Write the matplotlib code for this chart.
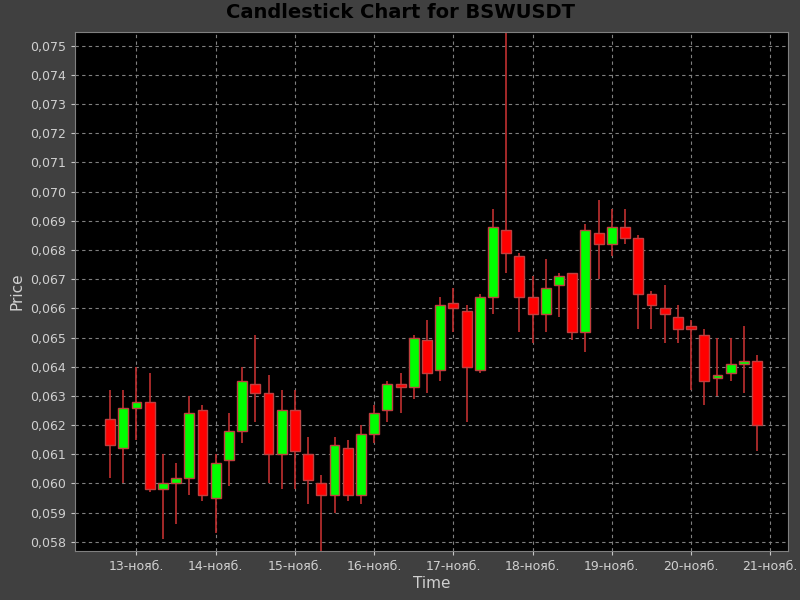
import matplotlib
matplotlib.use("Agg")
import matplotlib.pyplot as plt
import matplotlib.dates as mdates
import matplotlib.ticker as mticker
import pandas as pd

times = pd.date_range("2023-11-12 16:00", periods=50, freq="4h")
opens = [0.0622,0.0612,0.0626,0.0628,0.0598,0.0600,0.0602,0.0625,0.0595,0.0608,
         0.0618,0.0634,0.0631,0.0610,0.0625,0.0610,0.0600,0.0596,0.0612,0.0596,
         0.0617,0.0625,0.0634,0.0633,0.0649,0.0639,0.0662,0.0659,0.0639,0.0664,
         0.0687,0.0678,0.0664,0.0658,0.0668,0.0672,0.0652,0.0686,0.0682,0.0688,
         0.0684,0.0665,0.0660,0.0657,0.0654,0.0651,0.0636,0.0638,0.0641,0.0642]
highs = [0.0632,0.0632,0.0640,0.0638,0.0610,0.0607,0.0630,0.0627,0.0610,0.0624,
         0.0640,0.0651,0.0637,0.0632,0.0632,0.0616,0.0603,0.0616,0.0615,0.0620,
         0.0627,0.0635,0.0638,0.0651,0.0656,0.0664,0.0667,0.0661,0.0665,0.0694,
         0.0756,0.0679,0.0671,0.0677,0.0672,0.0672,0.0689,0.0697,0.0694,0.0694,
         0.0685,0.0666,0.0668,0.0661,0.0656,0.0653,0.0650,0.0650,0.0654,0.0644]
lows = [0.0602,0.0600,0.0615,0.0597,0.0581,0.0586,0.0596,0.0594,0.0583,0.0599,
        0.0614,0.0621,0.0600,0.0598,0.0598,0.0593,0.0577,0.0590,0.0594,0.0593,
        0.0614,0.0621,0.0624,0.0629,0.0631,0.0635,0.0652,0.0621,0.0638,0.0658,
        0.0672,0.0652,0.0648,0.0652,0.0657,0.0649,0.0645,0.0670,0.0678,0.0682,
        0.0653,0.0653,0.0648,0.0648,0.0632,0.0627,0.0630,0.0635,0.0631,0.0611]
closes = [0.0613,0.0626,0.0628,0.0598,0.0600,0.0602,0.0624,0.0596,0.0607,0.0618,
          0.0635,0.0631,0.0610,0.0625,0.0611,0.0601,0.0596,0.0613,0.0596,0.0617,
          0.0624,0.0634,0.0633,0.0650,0.0638,0.0661,0.0660,0.0640,0.0664,0.0688,
          0.0679,0.0664,0.0658,0.0667,0.0671,0.0652,0.0687,0.0682,0.0688,0.0684,
          0.0665,0.0661,0.0658,0.0653,0.0653,0.0635,0.0637,0.0641,0.0642,0.0620]
months = ["янв.","февр.","мар.","апр.","мая","июн.","июл.","авг.","сент.","окт.","нояб.","дек."]

fig = plt.figure(figsize=(8, 6), dpi=100, facecolor="#404040")
ax = fig.add_axes([0.094, 0.082, 0.891, 0.865])
ax.set_facecolor("black")
x = mdates.date2num(times)
w = 3 / 24
for xi, o, h, l, c in zip(x, opens, highs, lows, closes):
    up = c >= o
    ax.vlines(xi, l, h, color="#c03030", lw=1.2, zorder=2)
    ax.bar(xi, abs(c - o), bottom=min(o, c), width=w,
           color="#00ff00" if up else "#ff0000", edgecolor="#c04040", lw=1, zorder=3)

ax.set_xlim(x[0] - 0.44, x[-1] + 0.39)
ax.set_ylim(0.05769, 0.07548)
ax.xaxis.set_major_locator(mdates.DayLocator())
ax.xaxis.set_major_formatter(mticker.FuncFormatter(
    lambda v, p: "%d-%s" % (mdates.num2date(v).day, months[mdates.num2date(v).month - 1])))
ax.yaxis.set_major_locator(mticker.MultipleLocator(0.001))
ax.yaxis.set_major_formatter(mticker.FuncFormatter(lambda v, p: ("%.3f" % v).replace(".", ",")))
ax.grid(True, color="#808080", ls=(0, (3, 3)), lw=0.8)
for s in ax.spines.values():
    s.set_color("#808080")
ax.tick_params(colors="#c8c8c8", labelsize=9, length=3)
for t in ax.get_xticklabels() + ax.get_yticklabels():
    t.set_color("#d0d0d0")
ax.set_xlabel("Time", color="#d0d0d0", fontsize=11, labelpad=2)
ax.set_ylabel("Price", color="#d0d0d0", fontsize=11)
fig.suptitle("Candlestick Chart for BSWUSDT", color="black", fontsize=14,
             fontweight="bold", y=0.995)
fig.savefig("out.png", facecolor=fig.get_facecolor())
